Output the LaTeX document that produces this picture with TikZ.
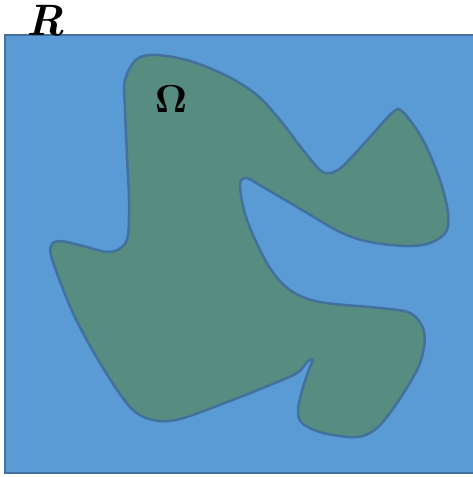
\documentclass[tikz,border=0pt]{standalone}
\usepackage{amsmath}
\usepackage{tikz}
\usetikzlibrary{positioning}
\definecolor{boxblue}{RGB}{91,155,213}
\definecolor{edgeblue}{RGB}{65,113,156}
\definecolor{blobgreen}{RGB}{87,141,128}

\begin{document}
\begin{tikzpicture}[x=1pt, y=-1pt,
    region/.style={fill=boxblue, draw=edgeblue, line width=2pt},
    omegashape/.style={fill=blobgreen, draw=edgeblue, line width=2.5pt, line join=round},
    biglabel/.style={font=\fontsize{44}{44}\selectfont, inner sep=0pt}]
    % page size
    \useasboundingbox (0,0) rectangle (472,477);

    % rectangle R
    \draw[region] (5,35) rectangle (480,473);
    \node[biglabel] (lblR) at (45,21) {\textbf{\textit{R}}};

    % the domain Omega
    \draw[omegashape] plot[smooth cycle, tension=0.55] coordinates {
        (125,80) (137,59) (157,55) (190,61) (227,76) (257,95) (280,120)
        (303,150) (320,170) (330,173) (343,166) (370,137) (393,112)
        (403,112) (423,140) (440,180) (448,213) (446,232) (430,243)
        (407,246) (370,242) (340,232) (297,207) (263,187) (246,178)
        (240,186) (247,220) (268,265) (290,290) (320,302) (380,308)
        (410,313) (423,328) (424,347) (417,370) (397,403) (377,428)
        (357,437) (323,433) (302,423) (298,410) (303,387) (310,367)
        (313,360) (308,361) (297,373) (270,385) (230,401) (180,419)
        (153,420) (130,407) (100,363) (73,313) (53,262) (51,246)
        (60,241) (83,246) (108,252) (122,247) (128,235) (129,200)
        (127,157) (125,110)};
    \node[inner sep=0pt, scale=3.9] (lblOmega) at (171,99) {$\mathbf{\Omega}$};
\end{tikzpicture}
\end{document}
